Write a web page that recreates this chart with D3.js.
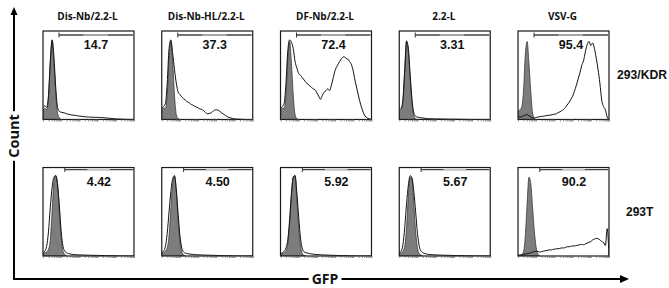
<!DOCTYPE html>
<html><head><meta charset="utf-8">
<script src="https://cdn.jsdelivr.net/npm/d3@7"></script>
<style>body{margin:0;background:#fff}svg{display:block}</style>
</head><body><svg id="c" width="669" height="288"></svg>
<script>
// ---- data ----
const columns = ["Dis-Nb/2.2-L", "Dis-Nb-HL/2.2-L", "DF-Nb/2.2-L", "2.2-L", "VSV-G"];
const rowLabels = ["293/KDR", "293T"];
const pctKDR = [14.7, 37.3, 72.4, 3.31, 95.4];
const pct293T = [4.42, 4.50, 5.92, 5.67, 90.2];
const gateStart = [0.88, 1.2];           // gate lower bound, log10 GFP
const xAxisLabel = "GFP";
const yAxisLabel = "Count";
// histogram bins (log10 GFP)
const gfpBins = [0,0.1,0.2,0.3,0.4,0.5,0.6,0.7,0.8,0.9,1,1.1,1.2,1.3,1.4,1.5,1.6,1.7,1.8,1.9,2,2.1,2.2,2.3,2.4,2.5,2.6,2.7,2.8,2.9,3,3.1,3.2,3.3,3.4,3.5,3.6,3.7,3.8,3.9,4,4.1,4.2,4.3,4.4,4.5,4.6,4.7,4.8,4.9,5];

// 293/KDR samples (% of mode)
const kdrDisNb   = [15,17,15,30,72,99,78,40,15,10, 9,8.5,8,7,6.5,6,5.5,5.2,5,4.6, 4.2,4,3.6,3.4,3.2,3,3,2.8,2.6,2.8, 2.6,2.4,2.5,2.2,2,1.8,1.6,1.4,1.2,1, 0.8,0.6,0.5,0.4,0.3,0.2,0.2,0.1,0.1,0.1, 0];
const kdrDisNbHL = [14,16,20,45,88,99,82,62,45,34, 31,28,26,24,22,21,19,18,16.5,15.5, 14.5,13,12.5,11,9,7,7.5,8,10,11.5, 12,11.5,10,8,6.5,5,3.5,2.5,1.8,1.2, 0.8,0.5,0.4,0.3,0.2,0.1,0,0,0,0, 0];
const kdrDFNb    = [14,16,20,45,85,99,96,88,72,64, 57,55,52,49,46,44,42,40,38,37, 33,29,25,30,34,36,38,36,43,52, 61,66,70,74,77,78,76,75,72,68, 60,48,38,28,19,12,6,3,1.5,0.5, 0];
const kdr22L     = [12,14,25,62,97,88,55,25,8,4, 3,2.5,2,1.8,1.5,1.2,1,0.9,0.8,0.8, 0.7,0.7,0.6,0.6,0.5,0.5,0.5,0.4,0.4,0.4, 0.3,0.3,0.3,0.2,0.2,0.2,0.2,0.1,0.1,0.1, 0.1,0,0,0,0,0,0,0,0,0, 0];
const kdrVSVG    = [3,3,3.5,4.5,5.5,6,4.5,3,2,2, 2.5,3,3.5,3.8,4,4.5,5,5.2,5.5,6, 6.5,7,8.5,9.5,11,12.5,15,18,21,25, 29,35,42,50,58,67,73,84,93,97, 92,95,88,76,62,45,24,16,12,3, 0];
// 293/KDR controls (filled)
const kdrCtlDisNb   = [12,14,12,25,70,98,70,32,8,2,0];
const kdrCtlDisNbHL = [12,14,14,30,75,97,72,30,6,1,0];
const kdrCtlDFNb    = [12,14,14,30,75,97,70,30,6,1,0];
const kdrCtl22L     = [10,12,22,60,98,85,50,20,5,1,0];
const kdrCtlVSVG    = [10,12,15,35,80,97,70,35,8,1,0];

// 293T samples
const t293DisNb   = [4,6,12,30,60,85,98,100,88,62, 30,12,6,4,3,2.5,2,1.8,1.6,1.5, 1.4,1.3,1.2,1.1,1,1,0.9,0.9,0.8,0.8, 0.7,0.7,0.6,0.6,0.5,0.5,0.4,0.4,0.3,0.3, 0.2,0.2,0.1,0.1,0,0,0,0,0,0, 0];
const t293DisNbHL = [4,6,12,28,55,80,96,100,82,52, 25,10,5,3.5,3,2.5,2.2,2,1.8,1.6, 1.5,1.4,1.3,1.2,1.1,1,1,0.9,0.8,0.8, 0.7,0.6,0.6,0.5,0.5,0.4,0.4,0.3,0.3,0.2, 0.2,0.1,0.1,0,0,0,0,0,0,0, 0];
const t293DFNb    = [3,4,6,10,20,45,78,98,100,78, 48,22,9,5,4,3.5,3,2.6,2.3,2, 1.8,1.6,1.5,1.4,1.3,1.2,1.1,1,0.9,0.9, 0.8,0.7,0.6,0.6,0.5,0.5,0.4,0.3,0.3,0.2, 0.2,0.1,0.1,0,0,0,0,0,0,0, 0];
const t29322L     = [4,6,14,35,65,88,100,97,80,55, 28,12,6,4,3,2.5,2,1.8,1.6,1.5, 1.4,1.3,1.2,1.1,1,1,0.9,0.8,0.8,0.7, 0.6,0.6,0.5,0.5,0.4,0.4,0.3,0.3,0.2,0.2, 0.1,0.1,0,0,0,0,0,0,0,0, 0];
const t293VSVG    = [1,1,1.5,2,2.5,3,3.5,4,5,5.5, 6,5.5,5,5.5,6,6.5,7,7.5,7.5,8, 8.5,9,9,9.5,10,10,10.5,11.5,11.5,12, 12.5,12.5,13,13.5,14,14.5,14,15,16,17, 18,20,21,22,21.5,20,18,17,13,34, 0];
// 293T controls
const t293CtlDisNb   = [3,4,5,8,20,55,92,100,90,55,22,6,2,0];
const t293CtlDisNbHL = [3,4,6,10,25,60,90,99,80,45,18,5,1.5,0];
const t293CtlDFNb    = [2,3,4,6,15,40,75,98,100,70,35,12,3,0.5,0];
const t293Ctl22L     = [3,4,6,12,35,75,98,95,65,30,10,3,1,0];
const t293CtlVSVG    = [1,1,2,5,25,65,98,90,60,30,10,2,0];

const samples  = [[kdrDisNb,kdrDisNbHL,kdrDFNb,kdr22L,kdrVSVG],[t293DisNb,t293DisNbHL,t293DFNb,t29322L,t293VSVG]];
const controls = [[kdrCtlDisNb,kdrCtlDisNbHL,kdrCtlDFNb,kdrCtl22L,kdrCtlVSVG],[t293CtlDisNb,t293CtlDisNbHL,t293CtlDFNb,t293Ctl22L,t293CtlVSVG]];
const percents = [pctKDR, pct293T];

// ---- drawing ----
const svg = d3.select("#c");
const xBand = d3.scaleBand().domain(columns).range([43, 609]).paddingInner(0.234);
const yBand = d3.scaleBand().domain(rowLabels).range([31, 256]).paddingInner(0.352);
const fmt = d3.format(".3g");
const numFont = "'Liberation Sans', Arial, sans-serif";
const titleFont = "'Open Sans', sans-serif";

// log tick positions
const tickVals = [];
for (let k = 0; k < 5; k++) for (let m = 1; m <= 9; m++) tickVals.push(k + Math.log10(m));
tickVals.push(5);

// column titles
svg.selectAll("text.title").data(columns).join("text")
  .attr("class","title")
  .attr("x", d => xBand(d) + xBand.bandwidth()/2 - 1)
  .attr("y", 20)
  .attr("text-anchor","middle")
  .style("font-family", titleFont).style("font-weight","700").style("font-size","10px")
  .attr("fill","#111")
  .text(d => d);

rowLabels.forEach((row, ri) => {
  const y0 = yBand(row), h = yBand.bandwidth();
  columns.forEach((col, ci) => {
    const x0 = xBand(col), w = xBand.bandwidth();
    const x = d3.scaleLinear().domain([0, 5]).range([x0, x0 + w]);
    const y = d3.scaleLinear().domain([0, 110]).range([y0 + h, y0]);
    const g = svg.append("g");
    const clipId = `clip${ri}${ci}`;
    g.append("clipPath").attr("id", clipId).append("rect")
      .attr("x", x0).attr("y", y0).attr("width", w).attr("height", h);
    const plot = g.append("g").attr("clip-path", `url(#${clipId})`);

    const ctl = controls[ri][ci];
    const ctlData = ctl.map((v, i) => [gfpBins[i], v]);
    plot.append("path").datum(ctlData)
      .attr("d", d3.area().x(d => x(d[0])).y0(y(0)).y1(d => y(d[1])).curve(d3.curveMonotoneX))
      .attr("fill", "#7d7d7d").attr("stroke", "#3a3a3a").attr("stroke-width", 0.8);

    const smp = samples[ri][ci];
    const smpData = smp.map((v, i) => [gfpBins[i], v]);
    plot.append("path").datum(smpData)
      .attr("d", d3.line().x(d => x(d[0])).y(d => y(d[1])).curve(d3.curveMonotoneX))
      .attr("fill", "none").attr("stroke", "#111").attr("stroke-width", 1);

    // frame
    g.append("rect").attr("x", x0).attr("y", y0).attr("width", w).attr("height", h)
      .attr("fill", "none").attr("stroke", "#1a1a1a").attr("stroke-width", 1.2);

    // bottom log ticks
    const ax = g.append("g").attr("transform", `translate(0,${y0 + h})`)
      .call(d3.axisBottom(x).tickValues(tickVals).tickSize(2).tickFormat(""));
    ax.select(".domain").remove();
    ax.selectAll("line").attr("stroke", "#666").attr("stroke-width", 0.7);

    // gate
    const gy = y0 + (ri === 0 ? 4 : 2);
    const gx1 = x(gateStart[ri]), gx2 = x(5) - 1;
    g.append("line").attr("x1", gx1).attr("x2", gx2).attr("y1", gy).attr("y2", gy)
      .attr("stroke", "#444").attr("stroke-width", 1.3);
    g.append("line").attr("x1", gx1 + (gx2 - gx1) * 0.33).attr("x2", gx1 + (gx2 - gx1) * 0.66)
      .attr("y1", gy).attr("y2", gy).attr("stroke", "#c4c4c4").attr("stroke-width", 1.3);
    g.append("line").attr("x1", gx1).attr("x2", gx1).attr("y1", gy - 2.5).attr("y2", gy + 2.5)
      .attr("stroke", "#333").attr("stroke-width", 1);

    g.append("text")
      .attr("x", (gx1 + gx2) / 2).attr("y", y0 + 18)
      .attr("text-anchor", "middle")
      .style("font-family", numFont).style("font-weight", "700").style("font-size", "12.5px")
      .attr("fill", "#111")
      .text(fmt(percents[ri][ci]));
  });
});

// row labels
svg.append("text").attr("x", 617).attr("y", 79)
  .style("font-family", numFont).style("font-weight","700").style("font-size","12px")
  .attr("textLength", 50).attr("lengthAdjust","spacingAndGlyphs")
  .attr("fill","#111").text(rowLabels[0]);
svg.append("text").attr("x", 626).attr("y", 216)
  .style("font-family", numFont).style("font-weight","700").style("font-size","12px")
  .attr("fill","#111").text(rowLabels[1]);

// big axes with arrows
const axes = svg.append("g");
axes.append("line").attr("x1", 14).attr("x2", 14).attr("y1", 14).attr("y2", 280)
  .attr("stroke", "#000").attr("stroke-width", 2);
axes.append("line").attr("x1", 13).attr("x2", 622).attr("y1", 279).attr("y2", 279)
  .attr("stroke", "#000").attr("stroke-width", 2);
axes.append("path").attr("d", "M14,7 L10.5,15 L17.5,15 Z").attr("fill", "#000");
axes.append("path").attr("d", "M629,279 L620,275 L620,283 Z").attr("fill", "#000");

const gfp = axes.append("text").attr("x", 325).attr("y", 279).attr("dy", "0.35em")
  .attr("text-anchor","middle")
  .style("font-family", titleFont).style("font-weight","700").style("font-size","14px")
  .attr("fill","#111").text(xAxisLabel);
const cg = axes.append("g").attr("transform","translate(14,136) rotate(-90)");
const cnt = cg.append("text").attr("x", 0).attr("y", 0).attr("dy","0.35em")
  .attr("text-anchor","middle")
  .style("font-family", titleFont).style("font-weight","700").style("font-size","14.5px")
  .attr("fill","#111").text(yAxisLabel);
{
  const bb = gfp.node().getBBox();
  axes.insert("rect", () => gfp.node())
    .attr("x", bb.x - 3).attr("y", bb.y).attr("width", bb.width + 6).attr("height", bb.height)
    .attr("fill", "#fff");
  const bc = cnt.node().getBBox();
  cg.insert("rect", () => cnt.node())
    .attr("x", bc.x - 3).attr("y", bc.y).attr("width", bc.width + 6).attr("height", bc.height)
    .attr("fill", "#fff");
}
</script></body></html>
